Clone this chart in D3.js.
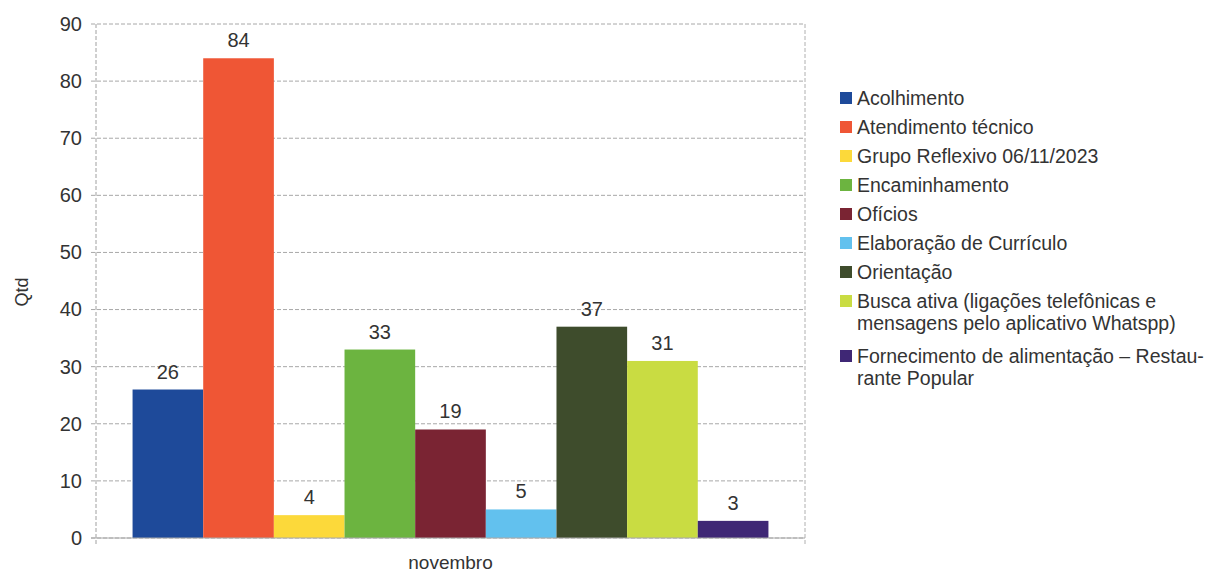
<!DOCTYPE html>
<html>
<head>
<meta charset="utf-8">
<script src="https://cdn.jsdelivr.net/npm/d3@7"></script>
<style>
  body { margin: 0; background: #fff; }
  text { font-family: "Liberation Sans", Arial, sans-serif; fill: #333; }
</style>
</head>
<body>
<div id="graf"></div>
<script>
// dados
const categorias = ["novembro"];
const series = [
  "Acolhimento",
  "Atendimento técnico",
  "Grupo Reflexivo 06/11/2023",
  "Encaminhamento",
  "Ofícios",
  "Elaboração de Currículo",
  "Orientação",
  "Busca ativa (ligações telefônicas e mensagens pelo aplicativo Whatspp)",
  "Fornecimento de alimentação – Restaurante Popular"
];
// linhas da legenda (quebra como no original)
const legendaLinhas = [
  ["Acolhimento"],
  ["Atendimento técnico"],
  ["Grupo Reflexivo 06/11/2023"],
  ["Encaminhamento"],
  ["Ofícios"],
  ["Elaboração de Currículo"],
  ["Orientação"],
  ["Busca ativa (ligações telefônicas e", "mensagens pelo aplicativo Whatspp)"],
  ["Fornecimento de alimentação – Restau-", "rante Popular"]
];
const valores = [26, 84, 4, 33, 19, 5, 37, 31, 3];
const cores = ["#1e4a9a", "#ef5635", "#fcd93a", "#6cb440", "#7a2433", "#62c1ee", "#3e4c2c", "#c9dc42", "#3f2775"];
const yTicks = [0, 10, 20, 30, 40, 50, 60, 70, 80, 90];

const totalW = 1228, totalH = 574;
const margin = { top: 24, right: 423, bottom: 36, left: 96 };
const w = totalW - margin.left - margin.right;
const h = totalH - margin.top - margin.bottom;

const svg = d3.select("#graf").append("svg")
  .attr("width", totalW)
  .attr("height", totalH);

const g = svg.append("g")
  .attr("transform", `translate(${margin.left},${margin.top})`);

// escalas
const x0 = d3.scaleBand().domain(categorias).range([0, w]).paddingInner(0).paddingOuter(0.0575);
const x1 = d3.scaleBand().domain(series).range([0, x0.bandwidth()]).padding(0);
const y = d3.scaleLinear().domain([0, 90]).range([h, 0]);

// grade
g.append("g").selectAll("line").data(yTicks).join("line")
  .attr("x1", -5).attr("x2", w)
  .attr("y1", d => y(d)).attr("y2", d => y(d))
  .attr("stroke", "#a8a8a8")
  .attr("stroke-dasharray", "4,2");

// borda direita e eixo y
g.append("line").attr("x1", w).attr("x2", w).attr("y1", 0).attr("y2", h + 8)
  .attr("stroke", "#b0b0b0").attr("stroke-dasharray", "4,2");
g.append("line").attr("x1", 0).attr("x2", 0).attr("y1", 0).attr("y2", h + 8)
  .attr("stroke", "#a0a0a0").attr("stroke-dasharray", "4,2");

// rótulos do eixo y
const yAxis = g.append("g").call(d3.axisLeft(y).tickValues(yTicks).tickSize(0).tickPadding(14));
yAxis.select(".domain").remove();
yAxis.selectAll("text").style("font-size", "20px").attr("fill", "#333")
  .style("font-family", "'Liberation Sans', Arial, sans-serif");

// barras
const grupo = g.append("g").attr("transform", `translate(${x0(categorias[0])},0)`);
grupo.selectAll("rect").data(series).join("rect")
  .attr("x", d => x1(d))
  .attr("width", x1.bandwidth())
  .attr("y", (d, i) => y(valores[i]))
  .attr("height", (d, i) => h - y(valores[i]))
  .attr("fill", (d, i) => cores[i]);

// valores sobre as barras
grupo.selectAll("text.valor").data(series).join("text")
  .attr("class", "valor")
  .attr("x", d => x1(d) + x1.bandwidth() / 2)
  .attr("y", (d, i) => y(valores[i]) - 11)
  .attr("text-anchor", "middle")
  .style("font-size", "20px")
  .text((d, i) => valores[i]);

// eixo x (linha de base)
g.append("line").attr("x1", -5).attr("x2", w).attr("y1", h).attr("y2", h)
  .attr("stroke", "#a8a8a8");

g.append("text")
  .attr("x", x0(categorias[0]) + x0.bandwidth() / 2)
  .attr("y", h + 31)
  .attr("text-anchor", "middle")
  .style("font-size", "19px")
  .text(categorias[0]);

// título do eixo y
svg.append("text")
  .attr("transform", "translate(28,292) rotate(-90)")
  .attr("text-anchor", "middle")
  .style("font-size", "18px")
  .text("Qtd");

// legenda
const legenda = svg.append("g").attr("transform", "translate(840,98)");
let yy = 0;
legendaLinhas.forEach((linhas, i) => {
  const item = legenda.append("g").attr("transform", `translate(0,${yy})`);
  item.append("rect").attr("x", 0).attr("y", -6).attr("width", 12).attr("height", 12)
    .attr("fill", cores[i]);
  item.append("text")
    .attr("x", 17)
    .attr("y", 7)
    .style("font-size", "19.5px")
    .selectAll("tspan").data(linhas).join("tspan")
    .attr("x", 17)
    .attr("dy", (d, j) => j === 0 ? 0 : 21.5)
    .text(d => d);
  yy += 29 + (linhas.length - 1) * 26;
});
</script>
</body>
</html>
